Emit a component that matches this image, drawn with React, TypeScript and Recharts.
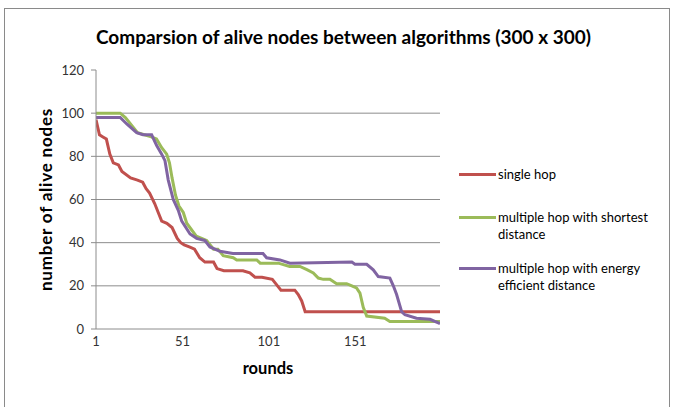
import React from 'react'
import { CartesianGrid, Legend, Line, LineChart, XAxis, YAxis } from 'recharts'

const singleHopRounds = [1, 3, 5, 7, 9, 11, 14, 16, 21, 25, 28, 30, 32, 35, 37, 39, 42, 45, 48, 50, 52, 55, 58, 61, 64, 69, 71, 75, 86, 90, 93, 97, 103, 106, 108, 116, 118, 120, 122, 200]
const singleHopNodes = [97, 90, 89, 88, 81, 77, 76, 73, 70, 69, 68, 65, 63, 58, 54, 50, 49, 47, 42, 40, 39, 38, 37, 33, 31, 31, 28, 27, 27, 26, 24, 24, 23, 20, 18, 18, 16, 13, 8, 8]

const shortestRounds = [1, 15, 18, 22, 25, 29, 33, 36, 39, 41.9, 43.5, 45, 47, 49, 51.5, 53.5, 59, 65, 69, 71.5, 74.6, 80.4, 82.4, 94, 96, 106.5, 113, 119, 123, 126.7, 129.6, 132.5, 136.3, 140.2, 146, 149, 151.7, 153.7, 155.6, 157.6, 168, 171, 200]
const shortestNodes = [100, 100, 98, 94, 91, 90, 89, 88, 84, 81, 77, 70, 62, 57, 54, 49, 43, 41, 37, 37, 34, 33, 32, 32, 30.5, 30.5, 29, 29, 27.5, 26, 23.6, 23, 23, 21, 21, 20, 19, 16.6, 10, 6, 5, 3.5, 3.5]

const energyRounds = [1, 15, 18.8, 24.5, 28.2, 33.2, 36.1, 39, 40.9, 42.8, 45.7, 48.6, 50.6, 55.4, 59.2, 64, 66.9, 72.7, 80.2, 97.6, 99.7, 107.4, 113.2, 149, 150.8, 157.6, 161.4, 164.3, 171, 173, 174.9, 177.8, 179.7, 186.4, 194.2, 197, 200]
const energyNodes = [98, 98, 95, 91, 90, 90, 85, 81, 78, 69, 60, 55, 50, 44, 42, 41, 38, 36, 35, 35, 33, 32, 30.5, 31, 30, 30, 27.4, 24.3, 23.6, 20, 16, 8, 6.6, 5, 4.5, 3.5, 2.5]

const xTicks = [1, 51, 101, 151]
const yTicks = [0, 20, 40, 60, 80, 100, 120]

const series = [
  { name: 'single hop', color: '#C0504D', rounds: singleHopRounds, nodes: singleHopNodes },
  { name: 'multiple hop with shortest distance', color: '#9BBB59', rounds: shortestRounds, nodes: shortestNodes },
  { name: 'multiple hop with energy efficient distance', color: '#8064A2', rounds: energyRounds, nodes: energyNodes },
]

const FONT = 'Lato, "Open Sans", sans-serif'

const LegendBox = () => (
  <div style={{ display: 'flex', flexDirection: 'column', fontFamily: FONT, fontSize: 13, color: '#000' }}>
    {series.map((s) => (
      <div key={s.name} style={{ height: 51, display: 'flex', alignItems: 'center' }}>
        <div style={{ display: 'flex', alignItems: 'flex-start' }}>
          <div style={{ width: 37, height: 3, background: s.color, marginTop: 7, marginRight: 2 }} />
          <div style={{ width: 152, lineHeight: '17px' }}>{s.name}</div>
        </div>
      </div>
    ))}
  </div>
)

const App = () => {
  return (
    <div style={{ position: 'absolute', left: 0, top: 0, width: 673, height: 407, background: '#fff', overflow: 'hidden' }}>
      <div style={{ position: 'absolute', left: 4, top: 8, width: 664, height: 420, border: '1px solid #8a8a8a' }} />
      <div
        style={{
          position: 'absolute', left: 0, top: 25, width: 687, textAlign: 'center',
          fontFamily: FONT, fontWeight: 700, fontSize: 19, color: '#000',
        }}
      >
        Comparsion of alive nodes between algorithms (300 x 300)
      </div>
      <LineChart width={673} height={407} margin={{ top: 70, right: 233, bottom: 48, left: 36 }} style={{ position: 'absolute', left: 0, top: 0 }}>
        <CartesianGrid vertical={false} horizontalValues={[20, 40, 60, 80, 100]} stroke="#8c8c8c" />
        <XAxis
          type="number"
          dataKey="round"
          domain={[1, 200]}
          ticks={xTicks}
          allowDataOverflow
          tickLine={false}
          axisLine={{ stroke: '#8c8c8c' }}
          height={30}
          tick={{ fill: '#333', fontSize: 13, fontFamily: FONT }}
          label={{ value: 'rounds', position: 'bottom', offset: 3, style: { fontFamily: FONT, fontWeight: 700, fontSize: 16.5, fill: '#000' } }}
        />
        <YAxis
          type="number"
          domain={[0, 120]}
          ticks={yTicks}
          width={60}
          tickSize={5}
          tickMargin={7}
          tickLine={{ stroke: '#8c8c8c' }}
          axisLine={{ stroke: '#8c8c8c' }}
          tick={{ fill: '#333', fontSize: 13, fontFamily: FONT }}
          label={{
            content: (p: any) => {
              const cy = p.viewBox.y + p.viewBox.height / 2
              const cx = p.viewBox.x + 9
              return (
                <text x={cx} y={cy} transform={`rotate(-90 ${cx} ${cy})`} textAnchor="middle" dominantBaseline="central"
                  style={{ fontFamily: FONT, fontWeight: 700, fontSize: 17, letterSpacing: 0.8, fill: '#000' }}>
                  number of alive nodes
                </text>
              )
            },
          }}
        />
        <Legend
          layout="horizontal"
          verticalAlign="middle"
          content={<LegendBox />}
          wrapperStyle={{ position: 'absolute', left: 459, top: 149, width: 200 }}
        />
        {series.map((s) => (
          <Line
            key={s.name}
            name={s.name}
            data={s.rounds.map((r, i) => ({ round: r, nodes: s.nodes[i] }))}
            dataKey="nodes"
            type="linear"
            stroke={s.color}
            strokeWidth={3}
            dot={false}
            activeDot={false}
            isAnimationActive={false}
          />
        ))}
      </LineChart>
    </div>
  )
}

export default App
